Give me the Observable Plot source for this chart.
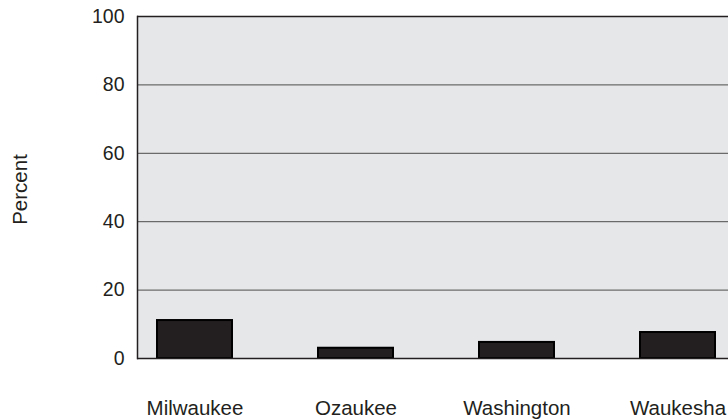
<!DOCTYPE html>
<html><head>
<meta charset="utf-8">
<script src="https://cdn.jsdelivr.net/npm/d3@7"></script>
<script src="https://cdn.jsdelivr.net/npm/@observablehq/plot@0.6"></script>
<style>
body{margin:0;background:#fff;overflow:hidden}
#c{width:728px;height:419px;overflow:hidden;position:relative}
#c svg{display:block;max-width:none !important;width:734px !important;height:419px !important}
</style>
</head><body><div id="c"></div>
<script>
const counties = ["Milwaukee", "Ozaukee", "Washington", "Waukesha"];
const percents = [11.1, 3.0, 4.7, 7.6];
const yTicks = [0, 20, 40, 60, 80, 100];
const gridTicks = [20, 40, 60, 80];
const yLabel = "Percent";

const data = counties.map((c, i) => ({county: c, percent: percents[i]}));

const chart = Plot.plot({
  width: 734,
  height: 419,
  marginLeft: 137,
  marginRight: 0,
  marginTop: 16,
  marginBottom: 61,
  style: {fontFamily: "'Liberation Sans', Arial, sans-serif", fontSize: "20px", color: "#231f20", background: "#fff"},
  x: {domain: counties, paddingInner: 0.535, paddingOuter: 0.118, label: null},
  y: {domain: [0, 100], label: null},
  marks: [
    Plot.frame({fill: "#e6e7e8", stroke: null}),
    Plot.ruleY(gridTicks, {stroke: "#4d4d4d", strokeWidth: 1}),
    Plot.ruleY([100], {stroke: "#231f20", strokeWidth: 1.5}),
    Plot.barY(data, {x: "county", y: "percent", fill: "#231f20", stroke: "#000", strokeWidth: 2}),
    Plot.ruleY([0], {stroke: "#231f20", strokeWidth: 1.5}),
    Plot.frame({anchor: "left", stroke: "#231f20", strokeWidth: 1.5}),
    Plot.axisY({ticks: yTicks, tickSize: 0, tickPadding: 13, label: null, fontSize: 19.5}),
    Plot.axisX({tickSize: 0, tickPadding: 42, label: null, fontSize: 20.5}),
    Plot.text([yLabel], {frameAnchor: "left", dx: -117, dy: 2, rotate: -90, textAnchor: "middle", fontSize: 20.5, fill: "#231f20"})
  ]
});
document.getElementById("c").appendChild(chart);
</script>
</body></html>
